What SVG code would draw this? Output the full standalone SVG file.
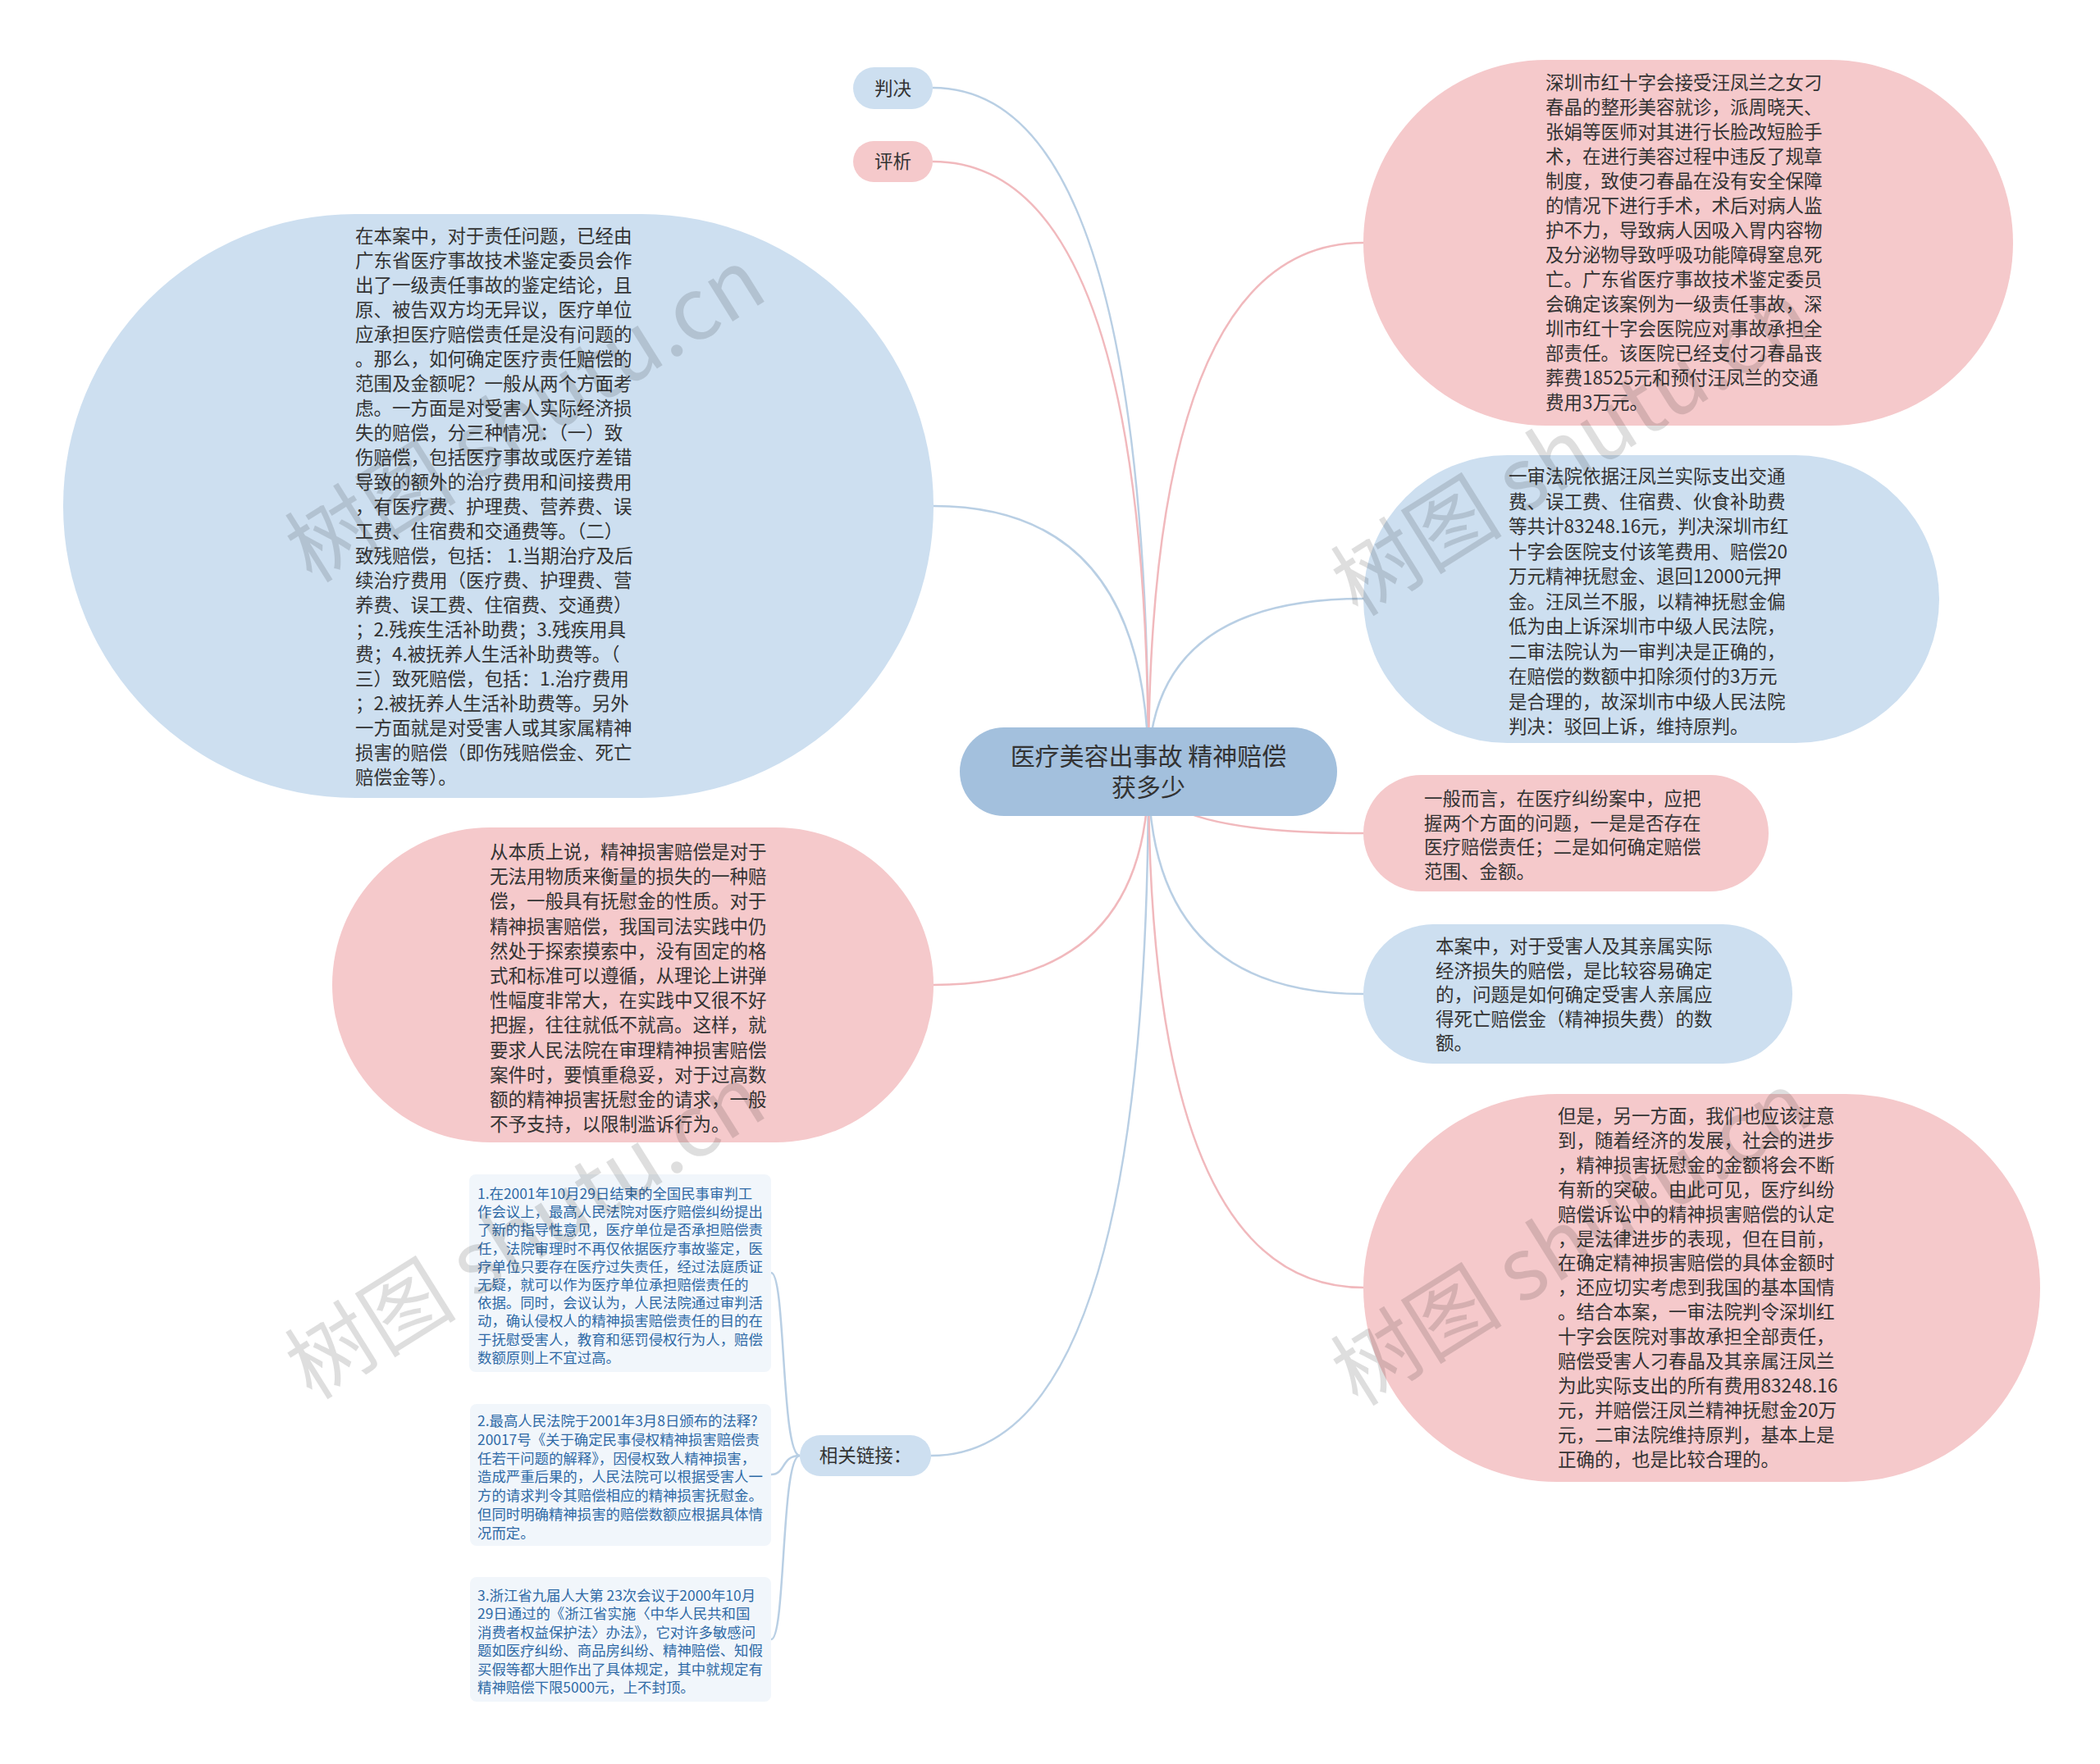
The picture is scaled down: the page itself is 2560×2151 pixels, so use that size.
<svg xmlns="http://www.w3.org/2000/svg" width="2560" height="2151" viewBox="0 0 2560 2151">
<style>
.t{font-family:"Noto Sans CJK SC","Noto Sans",sans-serif;font-size:22.5px;fill:#333}
.s{font-family:"Noto Sans CJK SC","Noto Sans",sans-serif;font-size:17.4px;fill:#2f6aa6}
.c{font-family:"Noto Sans CJK SC","Noto Sans",sans-serif;font-size:30px;fill:#333}
.pk{fill:#f5c9cb}
.bl{fill:#cddff0}
.box{fill:#f1f6fb}
.lp{fill:none;stroke:#f1b9bd;stroke-width:2.5}
.lb{fill:none;stroke:#b9cfe4;stroke-width:2.5}
.wm{font-family:"Noto Sans CJK SC","Noto Sans",sans-serif;font-size:105px;fill:#000;fill-opacity:0.13}
</style>
<rect width="2560" height="2151" fill="#ffffff"/>
<g id="connectors">
<path class="lb" d="M1400,941 Q1400,107 1137,107"/>
<path class="lp" d="M1400,941 Q1400,197 1137,197"/>
<path class="lb" d="M1400,941 Q1400,617 1138,617"/>
<path class="lp" d="M1400,941 Q1400,1201 1138,1201"/>
<path class="lb" d="M1400,941 Q1400,1775 1135,1775"/>
<path class="lp" d="M1400,941 Q1400,296 1662,296"/>
<path class="lb" d="M1400,941 Q1400,730 1662,730"/>
<path class="lp" d="M1400,941 Q1400,1016 1662,1016"/>
<path class="lb" d="M1400,941 Q1400,1212 1662,1212"/>
<path class="lp" d="M1400,941 Q1400,1570 1662,1570"/>
<path class="lb" d="M975,1775 C952,1775 958,1552 940,1552"/>
<path class="lb" d="M975,1775 C952,1775 958,1798 940,1798"/>
<path class="lb" d="M975,1775 C952,1775 958,1999 940,1999"/>
</g>
<g id="center">
<rect x="1170" y="887" width="460" height="108" rx="54" fill="#a3c0dd"/>
<text class="c" x="1400" y="933" text-anchor="middle">医疗美容出事故 精神赔偿</text>
<text class="c" x="1400" y="971" text-anchor="middle">获多少</text>
</g>
<g id="n-panjue">
<rect class="bl" x="1040" y="82" width="97" height="51" rx="25.5"/>
<text class="t" x="1088.5" y="116" text-anchor="middle">判决</text>
</g>
<g id="n-pingxi">
<rect class="pk" x="1040" y="172" width="97" height="50" rx="25"/>
<text class="t" x="1088.5" y="205" text-anchor="middle">评析</text>
</g>
<g id="n-left-blue">
<rect class="bl" x="77" y="261" width="1061" height="712" rx="356"/>
<text class="t" x="433" y="296">
<tspan x="433" dy="0">在本案中，对于责任问题，已经由</tspan>
<tspan x="433" dy="30">广东省医疗事故技术鉴定委员会作</tspan>
<tspan x="433" dy="30">出了一级责任事故的鉴定结论，且</tspan>
<tspan x="433" dy="30">原、被告双方均无异议，医疗单位</tspan>
<tspan x="433" dy="30">应承担医疗赔偿责任是没有问题的</tspan>
<tspan x="433" dy="30">。那么，如何确定医疗责任赔偿的</tspan>
<tspan x="433" dy="30">范围及金额呢？一般从两个方面考</tspan>
<tspan x="433" dy="30">虑。一方面是对受害人实际经济损</tspan>
<tspan x="433" dy="30">失的赔偿，分三种情况：（一）致</tspan>
<tspan x="433" dy="30">伤赔偿，包括医疗事故或医疗差错</tspan>
<tspan x="433" dy="30">导致的额外的治疗费用和间接费用</tspan>
<tspan x="433" dy="30">，有医疗费、护理费、营养费、误</tspan>
<tspan x="433" dy="30">工费、住宿费和交通费等。（二）</tspan>
<tspan x="433" dy="30">致残赔偿，包括： 1.当期治疗及后</tspan>
<tspan x="433" dy="30">续治疗费用（医疗费、护理费、营</tspan>
<tspan x="433" dy="30">养费、误工费、住宿费、交通费）</tspan>
<tspan x="433" dy="30">；2.残疾生活补助费；3.残疾用具</tspan>
<tspan x="433" dy="30">费；4.被抚养人生活补助费等。（</tspan>
<tspan x="433" dy="30">三）致死赔偿，包括：1.治疗费用</tspan>
<tspan x="433" dy="30">；2.被抚养人生活补助费等。另外</tspan>
<tspan x="433" dy="30">一方面就是对受害人或其家属精神</tspan>
<tspan x="433" dy="30">损害的赔偿（即伤残赔偿金、死亡</tspan>
<tspan x="433" dy="30">赔偿金等）。</tspan>
</text>
</g>
<g id="n-left-pink">
<rect class="pk" x="405" y="1009" width="733" height="384" rx="192"/>
<text class="t" x="597" y="1047">
<tspan x="597" dy="0">从本质上说，精神损害赔偿是对于</tspan>
<tspan x="597" dy="30.2">无法用物质来衡量的损失的一种赔</tspan>
<tspan x="597" dy="30.2">偿，一般具有抚慰金的性质。对于</tspan>
<tspan x="597" dy="30.2">精神损害赔偿，我国司法实践中仍</tspan>
<tspan x="597" dy="30.2">然处于探索摸索中，没有固定的格</tspan>
<tspan x="597" dy="30.2">式和标准可以遵循，从理论上讲弹</tspan>
<tspan x="597" dy="30.2">性幅度非常大，在实践中又很不好</tspan>
<tspan x="597" dy="30.2">把握，往往就低不就高。这样，就</tspan>
<tspan x="597" dy="30.2">要求人民法院在审理精神损害赔偿</tspan>
<tspan x="597" dy="30.2">案件时，要慎重稳妥，对于过高数</tspan>
<tspan x="597" dy="30.2">额的精神损害抚慰金的请求，一般</tspan>
<tspan x="597" dy="30.2">不予支持，以限制滥诉行为。</tspan>
</text>
</g>
<g id="n-links">
<rect class="bl" x="975" y="1750" width="160" height="50" rx="25"/>
<text class="t" x="1055" y="1783" text-anchor="middle">相关链接：</text>
</g>
<g id="n-link1">
<rect class="box" x="572" y="1432" width="368" height="241" rx="8"/>
<text class="s" x="582" y="1462">
<tspan x="582" dy="0">1.在2001年10月29日结束的全国民事审判工</tspan>
<tspan x="582" dy="22.2">作会议上，最高人民法院对医疗赔偿纠纷提出</tspan>
<tspan x="582" dy="22.2">了新的指导性意见，医疗单位是否承担赔偿责</tspan>
<tspan x="582" dy="22.2">任，法院审理时不再仅依据医疗事故鉴定，医</tspan>
<tspan x="582" dy="22.2">疗单位只要存在医疗过失责任，经过法庭质证</tspan>
<tspan x="582" dy="22.2">无疑，就可以作为医疗单位承担赔偿责任的</tspan>
<tspan x="582" dy="22.2">依据。同时，会议认为，人民法院通过审判活</tspan>
<tspan x="582" dy="22.2">动，确认侵权人的精神损害赔偿责任的目的在</tspan>
<tspan x="582" dy="22.2">于抚慰受害人，教育和惩罚侵权行为人，赔偿</tspan>
<tspan x="582" dy="22.2">数额原则上不宜过高。</tspan>
</text>
</g>
<g id="n-link2">
<rect class="box" x="573" y="1712" width="367" height="173" rx="8"/>
<text class="s" x="582" y="1739">
<tspan x="582" dy="0">2.最高人民法院于2001年3月8日颁布的法释?</tspan>
<tspan x="582" dy="22.8">20017号《关于确定民事侵权精神损害赔偿责</tspan>
<tspan x="582" dy="22.8">任若干问题的解释》，因侵权致人精神损害，</tspan>
<tspan x="582" dy="22.8">造成严重后果的，人民法院可以根据受害人一</tspan>
<tspan x="582" dy="22.8">方的请求判令其赔偿相应的精神损害抚慰金。</tspan>
<tspan x="582" dy="22.8">但同时明确精神损害的赔偿数额应根据具体情</tspan>
<tspan x="582" dy="22.8">况而定。</tspan>
</text>
</g>
<g id="n-link3">
<rect class="box" x="573" y="1923" width="367" height="152" rx="8"/>
<text class="s" x="582" y="1952">
<tspan x="582" dy="0">3.浙江省九届人大第 23次会议于2000年10月</tspan>
<tspan x="582" dy="22.4">29日通过的《浙江省实施〈中华人民共和国</tspan>
<tspan x="582" dy="22.4">消费者权益保护法〉办法》，它对许多敏感问</tspan>
<tspan x="582" dy="22.4">题如医疗纠纷、商品房纠纷、精神赔偿、知假</tspan>
<tspan x="582" dy="22.4">买假等都大胆作出了具体规定，其中就规定有</tspan>
<tspan x="582" dy="22.4">精神赔偿下限5000元，上不封顶。</tspan>
</text>
</g>
<g id="n-right-pink1">
<rect class="pk" x="1662" y="73" width="792" height="446" rx="223"/>
<text class="t" x="1884" y="109">
<tspan x="1884" dy="0">深圳市红十字会接受汪凤兰之女刁</tspan>
<tspan x="1884" dy="30">春晶的整形美容就诊，派周晓天、</tspan>
<tspan x="1884" dy="30">张娟等医师对其进行长脸改短脸手</tspan>
<tspan x="1884" dy="30">术，在进行美容过程中违反了规章</tspan>
<tspan x="1884" dy="30">制度，致使刁春晶在没有安全保障</tspan>
<tspan x="1884" dy="30">的情况下进行手术，术后对病人监</tspan>
<tspan x="1884" dy="30">护不力，导致病人因吸入胃内容物</tspan>
<tspan x="1884" dy="30">及分泌物导致呼吸功能障碍窒息死</tspan>
<tspan x="1884" dy="30">亡。广东省医疗事故技术鉴定委员</tspan>
<tspan x="1884" dy="30">会确定该案例为一级责任事故，深</tspan>
<tspan x="1884" dy="30">圳市红十字会医院应对事故承担全</tspan>
<tspan x="1884" dy="30">部责任。该医院已经支付刁春晶丧</tspan>
<tspan x="1884" dy="30">葬费18525元和预付汪凤兰的交通</tspan>
<tspan x="1884" dy="30">费用3万元。</tspan>
</text>
</g>
<g id="n-right-blue1">
<rect class="bl" x="1662" y="555" width="702" height="351" rx="175.5"/>
<text class="t" x="1839" y="589">
<tspan x="1839" dy="0">一审法院依据汪凤兰实际支出交通</tspan>
<tspan x="1839" dy="30.5">费、误工费、住宿费、伙食补助费</tspan>
<tspan x="1839" dy="30.5">等共计83248.16元，判决深圳市红</tspan>
<tspan x="1839" dy="30.5">十字会医院支付该笔费用、赔偿20</tspan>
<tspan x="1839" dy="30.5">万元精神抚慰金、退回12000元押</tspan>
<tspan x="1839" dy="30.5">金。汪凤兰不服，以精神抚慰金偏</tspan>
<tspan x="1839" dy="30.5">低为由上诉深圳市中级人民法院，</tspan>
<tspan x="1839" dy="30.5">二审法院认为一审判决是正确的，</tspan>
<tspan x="1839" dy="30.5">在赔偿的数额中扣除须付的3万元</tspan>
<tspan x="1839" dy="30.5">是合理的，故深圳市中级人民法院</tspan>
<tspan x="1839" dy="30.5">判决：驳回上诉，维持原判。</tspan>
</text>
</g>
<g id="n-right-pink2">
<rect class="pk" x="1662" y="945" width="494" height="142" rx="71"/>
<text class="t" x="1736" y="982">
<tspan x="1736" dy="0">一般而言，在医疗纠纷案中，应把</tspan>
<tspan x="1736" dy="29.5">握两个方面的问题，一是是否存在</tspan>
<tspan x="1736" dy="29.5">医疗赔偿责任；二是如何确定赔偿</tspan>
<tspan x="1736" dy="29.5">范围、金额。</tspan>
</text>
</g>
<g id="n-right-blue2">
<rect class="bl" x="1662" y="1127" width="523" height="170" rx="85"/>
<text class="t" x="1750" y="1162">
<tspan x="1750" dy="0">本案中，对于受害人及其亲属实际</tspan>
<tspan x="1750" dy="29.5">经济损失的赔偿，是比较容易确定</tspan>
<tspan x="1750" dy="29.5">的，问题是如何确定受害人亲属应</tspan>
<tspan x="1750" dy="29.5">得死亡赔偿金（精神损失费）的数</tspan>
<tspan x="1750" dy="29.5">额。</tspan>
</text>
</g>
<g id="n-right-pink3">
<rect class="pk" x="1662" y="1334" width="825" height="473" rx="236.5"/>
<text class="t" x="1899" y="1369">
<tspan x="1899" dy="0">但是，另一方面，我们也应该注意</tspan>
<tspan x="1899" dy="29.9">到，随着经济的发展，社会的进步</tspan>
<tspan x="1899" dy="29.9">，精神损害抚慰金的金额将会不断</tspan>
<tspan x="1899" dy="29.9">有新的突破。由此可见，医疗纠纷</tspan>
<tspan x="1899" dy="29.9">赔偿诉讼中的精神损害赔偿的认定</tspan>
<tspan x="1899" dy="29.9">，是法律进步的表现，但在目前，</tspan>
<tspan x="1899" dy="29.9">在确定精神损害赔偿的具体金额时</tspan>
<tspan x="1899" dy="29.9">，还应切实考虑到我国的基本国情</tspan>
<tspan x="1899" dy="29.9">。结合本案，一审法院判令深圳红</tspan>
<tspan x="1899" dy="29.9">十字会医院对事故承担全部责任，</tspan>
<tspan x="1899" dy="29.9">赔偿受害人刁春晶及其亲属汪凤兰</tspan>
<tspan x="1899" dy="29.9">为此实际支出的所有费用83248.16</tspan>
<tspan x="1899" dy="29.9">元，并赔偿汪凤兰精神抚慰金20万</tspan>
<tspan x="1899" dy="29.9">元，二审法院维持原判，基本上是</tspan>
<tspan x="1899" dy="29.9">正确的，也是比较合理的。</tspan>
</text>
</g>
<g id="watermarks">
<text class="wm" x="645" y="542" text-anchor="middle" transform="rotate(-32 645 514)">树图 shutu.cn</text>
<text class="wm" x="1920" y="583" text-anchor="middle" transform="rotate(-32 1920 555)">树图 shutu.cn</text>
<text class="wm" x="645" y="1538" text-anchor="middle" transform="rotate(-32 645 1510)">树图 shutu.cn</text>
<text class="wm" x="1920" y="1546" text-anchor="middle" transform="rotate(-32 1920 1518)">树图 shutu.cn</text>
</g>
</svg>
